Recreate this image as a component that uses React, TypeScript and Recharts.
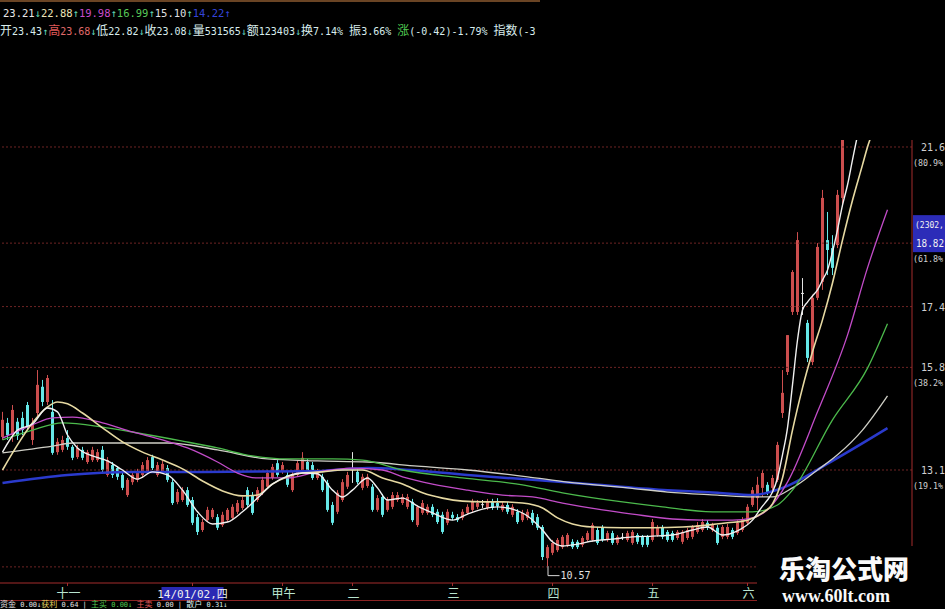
import React from 'react';
import { ComposedChart, Bar, Line, XAxis, YAxis, ReferenceLine, ReferenceDot } from 'recharts';

// daily candles, Nov 2013 -> Jun 2014 (index = trading day)
const opens = [
  13.97, 14.34, 14.02, 14.37, 14.47, 14.81, 13.89, 14.60, 15.29, 14.89,
  14.63, 13.57, 13.63, 13.94, 13.71, 13.44, 13.63, 13.31, 13.36, 13.36,
  13.63, 12.97, 13.23, 13.15, 12.97, 12.44, 12.78, 12.84, 12.97, 13.05,
  13.44, 12.97, 13.05, 13.15, 12.78, 12.26, 12.31, 12.57, 12.31, 11.86,
  11.52, 11.78, 11.86, 11.86, 11.65, 11.78, 11.84, 12.00, 12.10, 12.57,
  12.44, 12.31, 12.50, 12.66, 12.89, 13.28, 13.05, 12.97, 12.57, 12.97,
  13.10, 13.31, 13.23, 12.89, 12.92, 12.76, 12.18, 12.00, 12.31, 12.66,
  13.12, 13.05, 12.63, 12.68, 12.66, 12.05, 12.39, 12.05, 12.13, 12.31,
  12.23, 12.13, 12.26, 11.65, 11.97, 11.97, 12.13, 12.00, 11.92, 11.71,
  11.92, 11.86, 11.84, 11.97, 12.05, 12.13, 12.20, 12.10, 12.26, 12.23,
  12.05, 12.18, 11.92, 12.00, 11.78, 11.84, 11.97, 11.86, 11.60, 10.78,
  10.92, 10.99, 11.07, 11.13, 11.21, 11.21, 11.13, 11.26, 11.26, 11.52,
  11.58, 11.26, 11.44, 11.18, 11.34, 11.26, 11.18, 11.39, 11.34, 11.34,
  11.26, 11.39, 11.58, 11.47, 11.44, 11.31, 11.21, 11.31, 11.34, 11.47,
  11.52, 11.71, 11.52, 11.58, 11.34, 11.34, 11.52, 11.44, 11.52, 11.71,
  12.18, 12.36, 12.63, 12.71, 12.63, 12.84, 14.60, 15.68, 17.26, 17.26,
  17.76, 16.97, 15.94, 17.63, 18.05, 19.15, 18.94, 19.02, 20.26, 22.10,
  22.40, 22.70, 22.90, 22.80, 23.60, 23.30, 22.90, 23.43,
];
const highs = [
  14.63, 14.47, 14.81, 14.47, 14.63, 14.89, 14.47, 15.73, 15.47, 15.60,
  14.94, 13.94, 14.00, 14.15, 13.76, 13.76, 13.71, 13.63, 13.71, 13.65,
  13.73, 13.44, 13.31, 13.20, 13.05, 12.89, 13.05, 13.13, 13.31, 13.44,
  13.50, 13.31, 13.34, 13.23, 12.86, 12.60, 12.65, 12.65, 12.39, 11.94,
  11.81, 12.13, 12.10, 11.94, 12.00, 12.10, 12.20, 12.31, 12.39, 12.65,
  12.52, 12.65, 12.92, 13.10, 13.26, 13.36, 13.31, 13.05, 13.05, 13.36,
  13.57, 13.39, 13.31, 13.13, 13.00, 12.84, 12.26, 12.57, 12.86, 13.05,
  13.57, 13.13, 13.00, 13.00, 12.73, 12.44, 12.47, 12.39, 12.52, 12.52,
  12.47, 12.47, 12.34, 12.18, 12.31, 12.20, 12.20, 12.07, 12.00, 12.07,
  12.00, 11.94, 12.07, 12.20, 12.34, 12.31, 12.31, 12.34, 12.34, 12.36,
  12.26, 12.26, 12.20, 12.07, 12.05, 12.07, 12.05, 11.94, 11.65, 11.13,
  11.26, 11.31, 11.39, 11.44, 11.28, 11.26, 11.36, 11.50, 11.71, 11.60,
  11.65, 11.50, 11.50, 11.39, 11.44, 11.50, 11.52, 11.44, 11.39, 11.39,
  11.81, 11.65, 11.65, 11.52, 11.50, 11.52, 11.52, 11.58, 11.65, 11.73,
  11.81, 11.78, 11.71, 11.65, 11.65, 11.68, 11.58, 11.78, 11.86, 12.20,
  12.65, 12.92, 13.10, 12.78, 12.97, 13.84, 15.73, 16.65, 18.36, 19.36,
  18.15, 17.05, 17.71, 19.07, 20.47, 19.89, 19.28, 20.47, 22.30, 22.90,
  23.00, 23.20, 23.10, 23.90, 23.80, 23.50, 23.40, 23.68,
];
const lows = [
  13.89, 13.89, 13.84, 13.89, 14.02, 14.15, 13.76, 14.47, 14.78, 14.81,
  13.50, 13.50, 13.57, 13.63, 13.36, 13.39, 13.36, 13.26, 13.31, 13.31,
  13.05, 12.92, 12.89, 12.84, 12.57, 12.39, 12.71, 12.78, 12.89, 13.00,
  13.10, 12.92, 13.00, 12.78, 12.18, 12.20, 12.26, 12.13, 11.65, 11.39,
  11.47, 11.73, 11.81, 11.52, 11.60, 11.73, 11.78, 11.94, 12.05, 12.13,
  11.92, 12.26, 12.44, 12.60, 12.84, 12.92, 13.00, 12.65, 12.52, 12.92,
  13.05, 13.00, 12.84, 12.84, 12.52, 12.00, 11.65, 11.94, 12.26, 12.60,
  12.76, 12.73, 12.57, 12.63, 12.00, 12.00, 11.86, 12.00, 12.07, 12.26,
  12.18, 12.07, 11.73, 11.60, 11.92, 11.92, 11.86, 11.68, 11.42, 11.65,
  11.78, 11.73, 11.78, 11.92, 12.00, 12.07, 12.10, 12.05, 12.05, 12.05,
  12.00, 11.94, 11.86, 11.68, 11.73, 11.78, 11.65, 11.52, 10.73, 10.57,
  10.86, 10.94, 11.02, 11.07, 11.02, 11.02, 11.07, 11.21, 11.21, 11.13,
  11.21, 11.21, 11.13, 11.13, 11.26, 11.21, 11.13, 11.15, 11.07, 11.07,
  11.21, 11.34, 11.28, 11.21, 11.21, 11.26, 11.15, 11.26, 11.28, 11.42,
  11.47, 11.52, 11.47, 11.13, 11.28, 11.28, 11.28, 11.39, 11.47, 11.65,
  12.13, 12.05, 12.39, 12.44, 12.57, 12.78, 14.47, 15.60, 17.18, 17.18,
  17.18, 15.94, 15.86, 17.57, 17.84, 18.23, 18.23, 18.94, 20.10, 21.90,
  22.10, 22.40, 22.40, 22.70, 23.10, 22.70, 22.80, 22.82,
];
const closes = [
  14.42, 14.02, 14.68, 14.00, 14.15, 14.23, 14.29, 15.34, 14.89, 15.52,
  13.55, 13.84, 13.89, 13.71, 13.42, 13.68, 13.42, 13.57, 13.63, 13.57,
  13.10, 13.36, 12.97, 12.92, 12.63, 12.84, 12.97, 13.05, 13.23, 13.36,
  13.15, 13.23, 13.26, 12.84, 12.23, 12.52, 12.57, 12.18, 11.71, 11.47,
  11.73, 12.05, 12.05, 11.58, 11.92, 12.05, 12.13, 12.23, 12.31, 12.18,
  11.97, 12.57, 12.84, 13.02, 13.18, 12.97, 13.23, 12.71, 12.97, 13.28,
  13.42, 13.05, 12.89, 13.05, 12.57, 12.05, 11.71, 12.50, 12.78, 12.97,
  13.12, 12.78, 12.92, 12.92, 12.05, 12.36, 11.92, 12.31, 12.44, 12.44,
  12.39, 12.39, 11.78, 12.13, 12.23, 12.13, 11.92, 11.73, 11.47, 12.00,
  11.84, 11.78, 12.00, 12.13, 12.26, 12.23, 12.20, 12.26, 12.10, 12.15,
  12.18, 12.00, 12.13, 11.73, 11.97, 12.00, 11.71, 11.58, 10.81, 11.07,
  11.18, 11.26, 11.34, 11.39, 11.07, 11.07, 11.31, 11.44, 11.65, 11.18,
  11.26, 11.44, 11.18, 11.34, 11.34, 11.44, 11.47, 11.21, 11.13, 11.13,
  11.73, 11.60, 11.34, 11.26, 11.26, 11.47, 11.47, 11.52, 11.60, 11.65,
  11.73, 11.58, 11.65, 11.18, 11.60, 11.60, 11.34, 11.71, 11.78, 12.13,
  12.57, 12.71, 13.02, 12.50, 12.89, 13.76, 15.13, 16.65, 18.31, 19.15,
  17.76, 16.05, 17.63, 18.97, 20.26, 18.89, 18.42, 20.34, 22.00, 22.40,
  22.75, 22.90, 22.72, 23.60, 23.30, 22.90, 23.15, 23.08,
];

// moving average lines: [day index, value]
const ma5Pts: [number, number][] = [
  [0, 13.57], [3, 14.15], [6, 14.31], [9, 14.73], [11, 14.63], [13, 14.02], [15, 13.68], [18, 13.47],
  [21, 13.34], [24, 13.10], [27, 12.86], [30, 13.05], [33, 12.97], [36, 12.57], [39, 12.00], [42, 11.68],
  [45, 11.73], [48, 12.00], [51, 12.36], [54, 12.73], [57, 12.94], [60, 13.02], [63, 13.00], [66, 12.57],
  [68, 12.39], [70, 12.57], [73, 12.89], [75, 12.63], [77, 12.31], [80, 12.36], [83, 12.15], [86, 11.97],
  [90, 11.78], [93, 11.94], [96, 12.07], [99, 12.13], [102, 12.07], [105, 11.89], [108, 11.52], [110, 11.21],
  [112, 11.10], [115, 11.15], [118, 11.23], [122, 11.28], [126, 11.34], [130, 11.36], [134, 11.39], [138, 11.52],
  [141, 11.60], [144, 11.39], [147, 11.50], [150, 11.78], [152, 12.15], [153, 12.31], [154, 12.52], [155, 12.89],
  [156, 13.50], [157, 14.21], [158, 15.34], [159, 16.52], [160, 17.31], [161, 17.52], [162, 17.68], [163, 17.84],
  [164, 18.10], [165, 18.36], [166, 18.84], [167, 19.42], [168, 20.07], [169, 20.60], [170, 21.26], [171, 21.90],
  [172, 22.45], [173, 22.80], [175, 23.10], [177, 23.21],
];
const ma10Pts: [number, number][] = [
  [0, 13.10], [3, 13.76], [6, 14.34], [9, 14.76], [11, 14.89], [13, 14.84], [16, 14.60], [20, 14.21],
  [24, 13.84], [28, 13.57], [32, 13.36], [36, 13.13], [40, 12.81], [44, 12.55], [48, 12.42], [51, 12.44],
  [54, 12.73], [57, 12.92], [60, 13.02], [64, 13.05], [68, 13.10], [72, 13.10], [76, 12.89], [80, 12.73],
  [84, 12.50], [88, 12.36], [92, 12.28], [96, 12.26], [100, 12.26], [104, 12.23], [108, 12.10], [111, 11.84],
  [114, 11.68], [118, 11.60], [124, 11.58], [130, 11.58], [136, 11.60], [141, 11.65], [145, 11.71], [149, 11.78],
  [152, 11.97], [154, 12.21], [156, 12.89], [158, 14.15], [160, 15.26], [162, 16.21], [164, 17.05], [166, 18.02],
  [168, 19.15], [170, 20.20], [172, 21.13], [173, 21.60], [175, 22.30], [177, 22.88],
];
const ma20Pts: [number, number][] = [
  [0, 13.94], [6, 14.29], [10, 14.47], [14, 14.49], [20, 14.34], [26, 14.10], [32, 13.89], [37, 13.68],
  [43, 13.31], [47, 13.02], [51, 12.89], [57, 12.89], [63, 13.05], [70, 13.15], [76, 13.10], [80, 12.92],
  [86, 12.73], [93, 12.57], [100, 12.44], [106, 12.39], [112, 12.23], [120, 12.05], [126, 11.94], [134, 11.81],
  [140, 11.78], [146, 11.78], [150, 11.84], [153, 12.05], [157, 12.78], [163, 14.63], [169, 16.65], [173, 18.42],
  [177, 19.95],
];
const ma30Pts: [number, number][] = [
  [0, 13.89], [6, 14.15], [12, 14.34], [20, 14.23], [26, 14.10], [36, 13.86], [43, 13.68], [50, 13.47],
  [57, 13.39], [66, 13.39], [72, 13.36], [80, 13.10], [92, 12.89], [104, 12.71], [112, 12.50], [124, 12.26],
  [132, 12.13], [142, 12.00], [150, 12.00], [155, 12.18], [158, 12.57], [166, 14.42], [173, 15.78], [177, 16.95],
];
const ma60Pts: [number, number][] = [
  [0, 13.55], [10, 13.73], [14, 13.81], [24, 13.81], [33, 13.81], [43, 13.63], [53, 13.39], [63, 13.34],
  [73, 13.31], [83, 13.20], [93, 13.10], [105, 12.92], [113, 12.78], [125, 12.63], [133, 12.52], [143, 12.44],
  [150, 12.39], [154, 12.39], [158, 12.63], [163, 13.10], [167, 13.50], [172, 14.15], [177, 15.05],
];
const ma120Pts: [number, number][] = [
  [0, 12.76], [13, 12.97], [26, 13.05], [40, 13.05], [63, 13.07], [73, 13.15], [93, 12.97], [106, 12.84],
  [119, 12.71], [133, 12.57], [143, 12.50], [150, 12.44], [156, 12.63], [166, 13.34], [177, 14.20],
];

// golden-section levels on the right
const gridLevels = [21.6, 19.07, 17.4, 15.8, 13.1, 10.55];
const gridLabels = ['21.6', '18.82', '17.4', '15.8', '13.1', ''];
const gridPcts = ['(80.9%', '(61.8%', '', '(38.2%', '(19.1%', ''];
const cursorText = '(2302,';

const monthTicks = [13, 38, 56, 70, 90, 110, 130, 149];
const monthLabels = ['十一', '14/01/02,四', '甲午', '二', '三', '四', '五', '六'];

const lowIndex = 109;
const lowValue = 10.57;

const header1: [string, string][] = [
  ['23.21', '#e8e8e8'], ['↓', '#60d8b0'], ['22.88', '#ece4b8'], ['↑', '#60d8b0'],
  ['19.98', '#c84ccc'], ['↑', '#60d8b0'], ['16.99', '#58c858'], ['↑', '#60d8b0'],
  ['15.10', '#e0e0e0'], ['↑', '#60d8b0'], ['14.22', '#3444d8'], ['↑', '#3444d8'],
];
const header2: [string, string][] = [
  ['开23.43', '#d8ecec'], ['↑', '#60d8c0'], ['高', '#e05a5a'], ['23.68', '#e06a6a'], ['↓', '#60d8c0'],
  ['低22.82', '#d8ecec'], ['↓', '#60d8c0'], ['收23.08', '#d8ecec'], ['↓', '#60d8c0'],
  ['量531565', '#d8ecec'], ['↓', '#60d8c0'], ['额123403', '#d8ecec'], ['↓', '#60d8c0'],
  ['换7.14% ', '#d8ecec'], ['振3.66% ', '#d8ecec'], ['涨', '#50c850'], ['(-0.42)-1.79% ', '#d8ecec'],
  ['指数(-3', '#d8ecec'],
];
const footer: [string, string][] = [
  ['资金 0.00↓', '#e0e0e0'], ['获利', '#e0d060'], [' 0.64 | ', '#e0e0e0'], ['主买 0.00↓', '#50c850'],
  [' 主卖', '#e05a5a'], [' 0.00 | ', '#e0e0e0'], ['散户 0.31↓', '#d8ecec'],
];

const UP = '#cc4e4e';
const DOWN = '#66e8e8';
const FLAT = '#e4e4e4';
const AXIS = '#a42c2c';
const GRID = '#6e2424';
const MONO = '"DejaVu Sans Mono", "Noto Sans CJK SC", monospace';

const toMap = (pts: [number, number][]) => new Map(pts);
const m5 = toMap(ma5Pts), m10 = toMap(ma10Pts), m20 = toMap(ma20Pts);
const m30 = toMap(ma30Pts), m60 = toMap(ma60Pts), m120 = toMap(ma120Pts);

const rows = opens.map((o, i) => ({
  i,
  o,
  h: highs[i],
  l: lows[i],
  c: closes[i],
  hl: [lows[i], highs[i]],
  ma5: m5.get(i) ?? null,
  ma10: m10.get(i) ?? null,
  ma20: m20.get(i) ?? null,
  ma30: m30.get(i) ?? null,
  ma60: m60.get(i) ?? null,
  ma120: m120.get(i) ?? null,
}));

const Candle = (props: any) => {
  const { x, y, width, height, payload } = props;
  if (!payload || x == null || y == null) return null;
  const top = Math.min(y, y + height);
  const full = Math.abs(height);
  const span = payload.h - payload.l;
  const ppu = span > 0 ? full / span : 0;
  const cx = x + width / 2;
  const bTop = top + (payload.h - Math.max(payload.o, payload.c)) * ppu;
  const bBot = top + (payload.h - Math.min(payload.o, payload.c)) * ppu;
  const color = payload.c > payload.o ? UP : payload.c < payload.o ? DOWN : FLAT;
  return (
    <g>
      <rect x={cx - 0.5} y={top} width={1} height={Math.max(1, full)} fill={color} />
      <rect x={cx - 1.5} y={bTop} width={3} height={Math.max(1, bBot - bTop)} fill={color} />
    </g>
  );
};

const LowMark = (p: any) => (
  <g>
    <path d={`M${p.cx + 0.5},${p.cy} V${p.cy + 9.5} H${p.cx + 12}`} stroke="#d8d8d8" fill="none" />
    <text x={p.cx + 13} y={p.cy + 13} fill="#e0e0e0" fontSize={10} fontFamily={MONO}>
      {lowValue.toFixed(2)}
    </text>
  </g>
);

const MonthTick = (props: any) => {
  const { x, y, payload } = props;
  const k = monthTicks.indexOf(payload.value);
  const label = monthLabels[k];
  if (!label) return <g />;
  if (k === 1) {
    return (
      <g>
        <rect x={x - 31} y={y - 1} width={62} height={14} fill="#2a2ab4" />
        <text x={x} y={y + 10} textAnchor="middle" fill="#f0f0f0" fontSize={11} fontFamily={MONO}>{label}</text>
      </g>
    );
  }
  return (
    <text x={x + 1} y={y + 10} textAnchor="middle" fill="#b8e4d0" fontSize={12} fontFamily={MONO}>{label}</text>
  );
};

const PriceTick = (props: any) => {
  const { y, payload } = props;
  const k = gridLevels.indexOf(payload.value);
  const label = gridLabels[k];
  if (!label) return <g />;
  const x0 = 913;
  return (
    <g fontFamily={MONO} fontSize={10}>
      {k === 1 && <rect x={x0} y={y - 28} width={32} height={37} fill="#2c2cb8" />}
      {k === 1 && (
        <text x={x0 + 2} y={y - 15} fill="#f0f0f0" fontSize={8}>
          {cursorText}
        </text>
      )}
      <text
        x={x0 + (k === 1 ? 3 : 8)}
        y={y + 4}
        fill={k === 1 ? '#f0f0f0' : '#d0d0d0'}
        textLength={k === 1 ? 28 : undefined}
        lengthAdjust="spacingAndGlyphs"
      >
        {label}
      </text>
      {gridPcts[k] && (
        <text x={x0} y={y + 19} fill="#d0d0d0" fontSize={9} textLength={30} lengthAdjust="spacingAndGlyphs">
          {gridPcts[k]}
        </text>
      )}
    </g>
  );
};

const Runs = ({ runs, cjk = 12 }: { runs: [string, string][]; cjk?: number }) => (
  <>
    {runs.map(([t, col], k) => (
      <span key={k} style={{ color: col }}>
        {t.split(/([\u4e00-\u9fff]+)/).map((part, j) =>
          /[\u4e00-\u9fff]/.test(part) ? (
            <span key={j} style={{ fontSize: cjk }}>{part}</span>
          ) : (
            part
          )
        )}
      </span>
    ))}
  </>
);

export default function App() {
  const textRow: React.CSSProperties = {
    position: 'absolute',
    fontFamily: MONO,
    fontSize: 10.5,
    lineHeight: '12px',
    whiteSpace: 'nowrap',
  };
  return (
    <div style={{ position: 'fixed', left: 0, top: 0, width: 945, height: 609, background: '#000', overflow: 'hidden' }}>
      <div style={{ position: 'absolute', left: 0, top: 0, width: 540, height: 2, background: '#6a4424' }} />
      <div style={{ ...textRow, left: 3, top: 7 }}><Runs runs={header1} /></div>
      <div style={{ ...textRow, left: 0, top: 25, fontSize: 10 }}><Runs runs={header2} /></div>

      <ComposedChart
        width={945}
        height={609}
        data={rows}
        margin={{ top: 140, right: 0, bottom: 0, left: 0 }}
        barCategoryGap={0}
        style={{ position: 'absolute', left: 0, top: 0 }}
      >
        <XAxis
          dataKey="i"
          type="category"
          ticks={monthTicks}
          interval={0}
          height={26}
          padding={{ left: 0, right: 22 }}
          axisLine={{ stroke: AXIS }}
          tickLine={{ stroke: AXIS }}
          tickSize={3}
          tick={MonthTick}
        />
        <YAxis
          orientation="right"
          type="number"
          domain={[10.126, 21.784]}
          allowDataOverflow
          ticks={gridLevels}
          interval={0}
          width={33}
          axisLine={{ stroke: AXIS }}
          tickLine={false}
          tick={PriceTick}
        />
        {gridLevels.map((v) => (
          <ReferenceLine key={v} y={v} stroke={GRID} strokeDasharray="2 2" />
        ))}
        <Bar dataKey="hl" barSize={3} shape={Candle} isAnimationActive={false} />
        <Line dataKey="ma120" type="monotone" stroke="#2a3acc" strokeWidth={2.5} dot={false} activeDot={false} connectNulls isAnimationActive={false} />
        <Line dataKey="ma60" type="monotone" stroke="#cfcfc6" strokeWidth={1.3} dot={false} activeDot={false} connectNulls isAnimationActive={false} />
        <Line dataKey="ma30" type="monotone" stroke="#4cba4c" strokeWidth={1.3} dot={false} activeDot={false} connectNulls isAnimationActive={false} />
        <Line dataKey="ma20" type="monotone" stroke="#c24cc8" strokeWidth={1.3} dot={false} activeDot={false} connectNulls isAnimationActive={false} />
        <Line dataKey="ma10" type="monotone" stroke="#e6d9a2" strokeWidth={1.6} dot={false} activeDot={false} connectNulls isAnimationActive={false} />
        <Line dataKey="ma5" type="monotone" stroke="#f0f0f0" strokeWidth={1.4} dot={false} activeDot={false} connectNulls isAnimationActive={false} />
        <ReferenceDot x={lowIndex} y={lowValue} r={0} shape={LowMark} />
      </ComposedChart>

      <div style={{ position: 'absolute', left: 0, top: 600, width: 760, height: 1, background: '#8a2222' }} />
      <div style={{ ...textRow, left: 0, top: 601, fontSize: 7, lineHeight: '8px' }}><Runs runs={footer} cjk={8} /></div>

      <div style={{ position: 'absolute', left: 757, top: 546, width: 188, height: 63, background: '#000' }}>
        <div style={{ position: 'absolute', left: 22, top: 8, fontFamily: '"Noto Sans CJK SC"', fontWeight: 900, fontSize: 26, lineHeight: '28px', color: '#fafafa' }}>
          乐淘公式网
        </div>
        <div style={{ position: 'absolute', left: 25, top: 40, fontFamily: '"Liberation Serif"', fontWeight: 700, fontSize: 18, lineHeight: '20px', color: '#fafafa' }}>
          www.60lt.com
        </div>
      </div>
    </div>
  );
}
